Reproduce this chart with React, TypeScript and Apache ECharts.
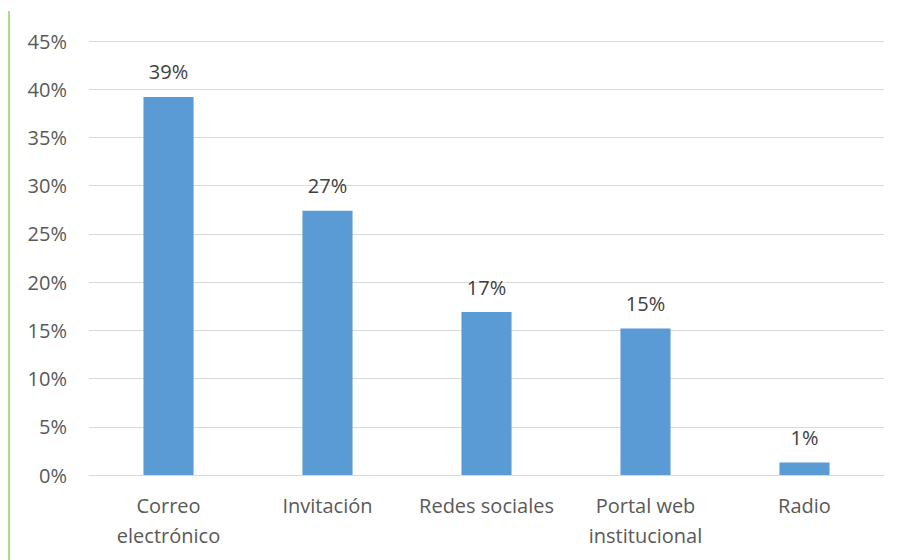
import React, { useEffect, useRef } from "react";
import * as echarts from "echarts";

const categories = ["Correo\nelectrónico", "Invitación", "Redes sociales", "Portal web\ninstitucional", "Radio"];
const values = [39.2, 27.4, 16.9, 15.2, 1.3];
const yTicks = { min: 0, max: 45, interval: 5 };

export default function App() {
  const ref = useRef<HTMLDivElement>(null);
  useEffect(() => {
    if (!ref.current) return;
    const chart = echarts.init(ref.current, undefined, { renderer: "svg" });
    const font = "'Open Sans', 'Noto Sans', sans-serif";
    chart.setOption({
      animation: false,
      textStyle: { fontFamily: font },
      grid: { left: 89, right: 16, top: 41, bottom: 85 },
      graphic: [
        {
          type: "line",
          shape: { x1: 9, y1: 11, x2: 9, y2: 560 },
          style: { stroke: "#92d050", lineWidth: 1.5 },
        },
      ],
      xAxis: {
        type: "category",
        data: categories,
        axisLine: { show: true, lineStyle: { color: "#d9d9d9", width: 1 } },
        axisTick: { show: false },
        axisLabel: {
          color: "#595959",
          fontSize: 20,
          fontFamily: font,
          margin: 15,
          lineHeight: 30,
          interval: 0,
        },
      },
      yAxis: {
        type: "value",
        min: yTicks.min,
        max: yTicks.max,
        interval: yTicks.interval,
        axisLine: { show: false },
        axisTick: { show: false },
        splitLine: { lineStyle: { color: "#d9d9d9", width: 1 } },
        axisLabel: {
          color: "#595959",
          fontSize: 20,
          fontFamily: font,
          margin: 22,
          formatter: "{value}%",
        },
      },
      series: [
        {
          type: "bar",
          data: values,
          barWidth: "31.5%",
          itemStyle: { color: "#5b9bd5" },
          label: {
            show: true,
            position: "top",
            distance: 15,
            color: "#404040",
            fontSize: 20,
            fontFamily: font,
            formatter: (p: any) => Math.round(p.value) + "%",
          },
        },
      ],
    });
    return () => chart.dispose();
  }, []);
  return <div ref={ref} style={{ width: 900, height: 560, position: "absolute", left: 0, top: 0 }} />;
}
